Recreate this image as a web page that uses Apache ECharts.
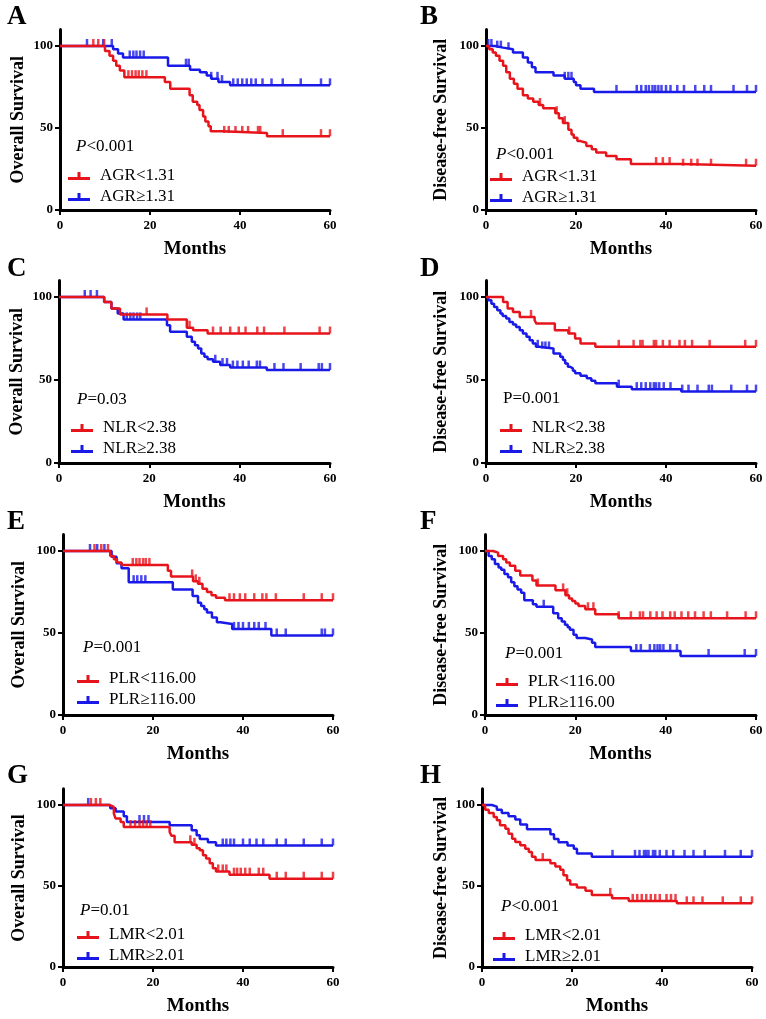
<!DOCTYPE html>
<html><head><meta charset="utf-8">
<script src="https://cdn.jsdelivr.net/npm/echarts@6/dist/echarts.min.js"></script>
<style>html,body{margin:0;padding:0;background:#fff}#c{width:766px;height:1019px}</style>
</head><body><div id="c"></div><script>
// ---- DATA: Kaplan-Meier steps [month, survival %] and censor times (months) ----
const xTicks = [0, 20, 40, 60];
const yTicks = [0, 50, 100];
const panelLetters = ['A','B','C','D','E','F','G','H'];
const yTitles = ['Overall Survival','Disease-free Survival','Overall Survival','Disease-free Survival','Overall Survival','Disease-free Survival','Overall Survival','Disease-free Survival'];
const pTexts = ['<0.001','<0.001','=0.03','=0.001','=0.001','=0.001','=0.01','<0.001'];
const pItalic = [true,true,true,false,true,true,true,true];
const lowNames = ['AGR<1.31','AGR<1.31','NLR<2.38','NLR<2.38','PLR<116.00','PLR<116.00','LMR<2.01','LMR<2.01'];
const highNames = ['AGR≥1.31','AGR≥1.31','NLR≥2.38','NLR≥2.38','PLR≥116.00','PLR≥116.00','LMR≥2.01','LMR≥2.01'];

const osAgrLow = [[0,100],[10,97],[11,94],[11.8,91],[12.5,88],[13.3,85],[14.3,81],[23.3,78],[24.5,74],[28.8,70],[29.5,66],[30.5,64],[31,61],[31.8,57],[32.3,54],[33,51],[33.5,48],[36,47],[46,45],[60,45]];
const osAgrLowC = [7.4,8.5,9.8,15.2,16,16.8,17.5,18.3,19.2,36.5,37.5,39,40.5,41.8,44,44.5,49.5,58,60];
const osAgrHigh = [[0,100],[11.8,98],[12.9,95.5],[14,93],[24,88],[28.9,85.5],[31.1,84],[32.6,82],[33.6,80],[35.2,78],[37.8,76],[60,76]];
const osAgrHighC = [6,9.6,11.5,15.5,16.3,17,17.8,18.6,28,28.6,33.6,35,36,38.5,39.5,40.5,41.5,42.5,43.5,45,47,49.5,53.5,58,60];

const dfsAgrLow = [[0,100],[0.7,98],[1.5,96],[2.2,94],[3,91],[3.8,88],[4.5,84],[5.3,80],[6.2,77],[7,74],[8.2,70],[9.3,68],[10.5,66],[11.7,64],[12.7,62],[15.4,59],[16.2,56],[17.1,53],[18.3,49],[19,46],[19.5,44],[20.3,42],[21,41],[22.3,39],[23.5,37],[24.5,35],[26.7,33],[29,31],[32.2,28],[43.3,27],[60,27]];
const dfsAgrLowC = [12,15.7,17.5,37.8,39.3,40.8,43.8,45.6,47,50,57.8,60];
const dfsAgrHigh = [[0,100],[2,99],[3.8,98],[6,96],[8.2,93],[9.3,90],[10.2,87],[11,84],[15,82],[17.5,80],[19.5,78],[20,76],[21,74],[24,72],[60,72]];
const dfsAgrHighC = [0.5,1.2,2.5,3.3,5,17.5,18.3,19,29,33.5,34.5,35.5,36.2,37,37.6,38.3,39,40,41,42.5,44,46.5,48.5,50,55,58,60];

const osNlrLow = [[0,100],[10,97],[11.6,93],[13.5,89.5],[24,86.5],[28.3,81.5],[29.7,80],[32.9,78],[60,78]];
const osNlrLowC = [19.4,28.9,34.1,35.8,37.9,39.8,41.3,43.9,45.4,49.9,57.7,60];
const osNlrHigh = [[0,100],[10,97],[11.6,93],[13,90],[14.3,86.5],[23.9,83],[24.6,79],[28.3,76],[29.4,73],[30.1,71],[30.8,69],[31.5,66],[32.2,64],[32.9,62.5],[34.1,61],[35.7,59],[37.9,57.5],[46,56],[60,56]];
const osNlrHighC = [5.7,7,8.4,15,15.8,16.5,17.3,18,34.6,36.2,37.2,38.5,39.5,40.7,42,43.8,44.5,47.7,49.7,53.5,57.5,58.2,60];

const dfsNlrLow = [[0,100],[3.8,97],[4.8,93],[6,91],[7.5,88],[10.8,86],[11.2,84],[15.3,80],[18.3,78],[19.8,75],[21,72],[24.3,70],[60,70]];
const dfsNlrLowC = [10,18.5,29.5,32.8,34.3,34.8,37.3,37.8,39.3,40.8,43,44.2,45.8,49.7,57.6,60];
const dfsNlrHigh = [[0,100],[0.5,98],[1.2,96],[1.8,94],[2.5,92],[3.2,90],[3.7,88.5],[4.5,87],[5.2,85],[6,83.5],[6.7,82],[7.5,80],[8.2,78],[9,76],[9.7,74],[10.4,72],[11.1,70],[11.8,69],[15,66],[16.5,64],[17.1,62],[17.6,60],[18.2,58],[18.7,57],[19.3,55.5],[19.8,54],[21,52.5],[22.4,51],[23.4,49.5],[24.3,48],[29.1,46],[32.4,44.5],[43.4,43],[60,43]];
const dfsNlrHighC = [11.5,12.5,13.2,14,29.5,33.5,34.5,35.5,36.5,37.3,37.8,38.5,39.5,41,43.6,45,47,49.5,50.2,54.5,58,60];

const osPlrLow = [[0,100],[10.5,97],[11.3,95],[12,93],[13,91.5],[23.3,88],[24,84.5],[28.9,81.5],[30,80],[31,77],[32,75],[33,73],[34,71.5],[36,70],[60,70]];
const osPlrLowC = [7,8.5,10,15.5,16.3,17,17.8,18.4,19.2,28.7,29.5,30.3,37,38,39.3,40.5,42.5,44.3,45.2,47.3,53.5,57.5,60];
const osPlrHigh = [[0,100],[10.8,96.5],[11.9,92.5],[13,89.5],[14.6,81],[24.4,76.5],[28.8,72.5],[30,68.5],[30.7,66.5],[31.4,64.5],[32,62.5],[33.1,59.5],[34.2,56.5],[35,55.5],[37.6,52.5],[46.3,48.5],[60,48.5]];
const osPlrHighC = [6,7.6,9.2,15.7,16.5,17.4,18.3,38,39,40,41.3,42.5,43.5,45,47.5,49.5,57.5,58.2,60];

const dfsPlrLow = [[0,100],[1.8,99],[2.9,97],[4,95],[4.7,93],[5.5,91],[6.7,88],[7.8,85],[10.5,82],[11.4,79],[15.6,76],[17.8,73],[18.6,71],[19.3,69.5],[20,68],[20.7,66.5],[22.2,64.5],[24.4,61.5],[29.6,59],[60,59]];
const dfsPlrLowC = [11.7,17.3,18.2,22.8,24,29.6,32.3,34.3,35,36.6,38,39.3,41,42,43.5,45,46.5,48.4,50,53.6,57.7,60];
const dfsPlrHigh = [[0,100],[0.8,97],[1.5,95],[2.2,92],[3,90],[3.6,88.5],[4.3,86],[5.1,84],[5.8,81],[6.5,78.5],[7.2,76.5],[8,74.5],[8.7,70],[10.6,67.5],[11.4,66],[15.1,62],[16.2,59],[17,57],[17.7,55],[18.3,53.5],[18.8,52],[19.6,49],[20.3,47],[22.2,46],[23.7,44],[24.4,41.5],[32.3,39],[43.3,36],[60,36]];
const dfsPlrHighC = [13,33.5,34.5,36.5,37.5,38.2,38.8,39.5,41,42.5,49.5,57.5,60];

const osLmrLow = [[0,100],[10.3,98.8],[11.3,94.7],[11.7,91.6],[12.8,89.5],[13.5,86.4],[23.7,83.3],[24.1,81],[24.8,77],[28.6,75.4],[29.7,73.3],[30.4,72],[31.1,69],[31.8,67],[32.6,64],[33.3,61],[34,59],[37,57],[45.9,54.5],[60,54.5]];
const osLmrLowC = [6.2,7.3,8.3,15,16,17,17.8,18.6,19.4,28.3,29.2,34.5,35.5,36.3,38,38.7,39.5,40.5,41.5,43.5,44.5,47.5,49.5,53.5,57.5,60];
const osLmrHigh = [[0,100],[10.5,98],[11.7,96],[13.5,93],[14.2,89.5],[23.7,87.5],[28.6,84.4],[29.7,81.3],[30.4,79],[32.2,77],[34,75],[60,75]];
const osLmrHighC = [5.6,17,18,19,35.5,36.3,37.2,38,40,41.5,43,44.5,47.5,49.5,53.5,57.5,60];

const dfsLmrLow = [[0,100],[0.7,97],[1.5,95],[2.6,92.6],[3.3,90.6],[4,87.5],[5.2,85.4],[5.9,82.3],[6.7,79.2],[7.4,77.2],[8.5,75.1],[9.6,73],[10.4,71],[11.1,68],[11.9,66],[15.2,64],[16.3,62],[17.4,60],[18.1,56.6],[18.9,53.5],[19.6,51],[21.1,49],[23,47],[24.4,44.5],[28.9,42.5],[32.6,40.8],[43.3,39.3],[60,39.3]];
const dfsLmrLowC = [13.5,28.5,33.5,34.5,35.5,36.5,37.5,38.5,39.5,41,42,43,45.5,47,49,53.5,57.5,60];
const dfsLmrHigh = [[0,100],[2.2,99],[3.3,97],[4.4,95],[5.9,93],[7.4,91],[8.5,88],[10,85],[15.2,82],[16,79],[17,77],[19,75],[20.4,73],[21.1,70],[24.4,68],[60,68]];
const dfsLmrHighC = [29,34,35,36,36.5,37,38,38.5,39.5,41,42.5,45,47,49.5,54,57.5,60];

const lowCurves = [osAgrLow, dfsAgrLow, osNlrLow, dfsNlrLow, osPlrLow, dfsPlrLow, osLmrLow, dfsLmrLow];
const lowCensors = [osAgrLowC, dfsAgrLowC, osNlrLowC, dfsNlrLowC, osPlrLowC, dfsPlrLowC, osLmrLowC, dfsLmrLowC];
const highCurves = [osAgrHigh, dfsAgrHigh, osNlrHigh, dfsNlrHigh, osPlrHigh, dfsPlrHigh, osLmrHigh, dfsLmrHigh];
const highCensors = [osAgrHighC, dfsAgrHighC, osNlrHighC, dfsNlrHighC, osPlrHighC, dfsPlrHighC, osLmrHighC, dfsLmrHighC];

// ---- LAYOUT ----
const RED = '#e8141c', BLUE = '#1a1ae8';
const FONT = "'Liberation Serif','Times New Roman',serif";
const L = [
  {x0:60, x1:330, y0:210, y1:46, lx:68, ly:176, px:76, py:148, tx:7, ty:4, gap:33},
  {x0:486,x1:756, y0:210, y1:46, lx:490,ly:177, px:496,py:156, tx:420,ty:4, gap:36},
  {x0:59, x1:330, y0:463, y1:297, lx:71, ly:428, px:77, py:401, tx:7, ty:256, gap:33},
  {x0:486,x1:756, y0:463, y1:297, lx:500,ly:428, px:503,py:400, tx:420,ty:256, gap:36},
  {x0:63, x1:333, y0:715, y1:551, lx:77, ly:679, px:83, py:649, tx:7, ty:509, gap:35},
  {x0:485,x1:756, y0:715, y1:551, lx:496,ly:682, px:505,py:655, tx:420,ty:509, gap:35},
  {x0:63, x1:333, y0:967, y1:805, lx:77, ly:935, px:80, py:912, tx:7, ty:763, gap:35},
  {x0:482,x1:752, y0:967, y1:805, lx:493,ly:936, px:501,py:908, tx:420,ty:763, gap:32}
];

function survAt(curve, t) {
  let v = curve[0][1];
  for (const [x, y] of curve) { if (x <= t) v = y; else break; }
  return v;
}

const grids = [], xAxes = [], yAxes = [], series = [], legends = [], graphics = [];
const ICON = 'path://M0,5L22,5L22,8L0,8ZM9.5,0L12.5,0L12.5,5L9.5,5Z';
L.forEach((g, i) => {
  const top = g.y1 - 0.1 * (g.y0 - g.y1);
  grids.push({left: g.x0, top: top, width: g.x1 - g.x0, height: g.y0 - top});
  xAxes.push({
    type: 'value', gridIndex: i, min: 0, max: 60, interval: 20,
    axisLine: {show: true, lineStyle: {color: '#000', width: 3}},
    axisTick: {show: true, length: 5, lineStyle: {color: '#000', width: 2}},
    axisLabel: {color: '#000', fontWeight: 'bold', fontSize: 13, fontFamily: FONT, margin: 9},
    splitLine: {show: false},
    name: 'Months', nameLocation: 'middle', nameGap: 30,
    nameTextStyle: {color: '#000', fontWeight: 'bold', fontSize: 19, fontFamily: FONT}
  });
  yAxes.push({
    type: 'value', gridIndex: i, min: 0, max: 110, interval: 50,
    axisLine: {show: true, lineStyle: {color: '#000', width: 3}},
    axisTick: {show: true, length: 5, lineStyle: {color: '#000', width: 2}, customValues: yTicks},
    axisLabel: {color: '#000', fontWeight: 'bold', fontSize: 13, fontFamily: FONT, margin: 7, customValues: yTicks},
    splitLine: {show: false},
    name: yTitles[i], nameLocation: 'middle', nameGap: g.gap,
    nameTextStyle: {color: '#000', fontWeight: 'bold', fontSize: 18, fontFamily: FONT}
  });
  const groups = [
    {name: highNames[i], color: BLUE, curve: highCurves[i], cens: highCensors[i]},
    {name: lowNames[i], color: RED, curve: lowCurves[i], cens: lowCensors[i]}
  ];
  groups.forEach((s, k) => {
    series.push({
      type: 'line', name: s.name, xAxisIndex: i, yAxisIndex: i, step: 'end',
      data: s.curve, symbol: 'none', showSymbol: false,
      lineStyle: {color: s.color, width: 2.5}, itemStyle: {color: s.color},
      z: 2 + k, animation: false
    });
    series.push({
      type: 'scatter', name: 'cens' + i + '_' + k, xAxisIndex: i, yAxisIndex: i,
      data: s.cens.map(t => [t, survAt(s.curve, t)]),
      symbol: 'rect', symbolSize: [2.5, 7], symbolOffset: [0, -3.5],
      itemStyle: {color: s.color}, z: 2 + k, animation: false, silent: true
    });
  });
  legends.push({
    orient: 'vertical', left: g.lx, top: g.ly - 10, padding: 0, itemWidth: 22, itemHeight: 8, itemGap: 1,
    icon: ICON, selectedMode: false, data: [lowNames[i], highNames[i]],
    textStyle: {color: '#000', fontSize: 17, lineHeight: 20, fontFamily: FONT, padding: [0,0,0,5]}
  });
  graphics.push({
    type: 'text', left: g.px, top: g.py - 10,
    style: {
      text: pItalic[i] ? '{i|P}{n|' + pTexts[i] + '}' : '{n|P' + pTexts[i] + '}',
      rich: {
        i: {fontStyle: 'italic', fontSize: 17, fontFamily: FONT, fill: '#000'},
        n: {fontSize: 17, fontFamily: FONT, fill: '#000'}
      }
    }
  });
  graphics.push({
    type: 'text', left: g.tx, top: g.ty,
    style: {text: panelLetters[i], fontSize: 27, fontWeight: 'bold', fontFamily: FONT, fill: '#000'}
  });
});

const chart = echarts.init(document.getElementById('c'), null, {renderer: 'canvas'});
chart.setOption({
  backgroundColor: '#fff', animation: false,
  grid: grids, xAxis: xAxes, yAxis: yAxes, series: series, legend: legends, graphic: graphics
});
</script></body></html>
